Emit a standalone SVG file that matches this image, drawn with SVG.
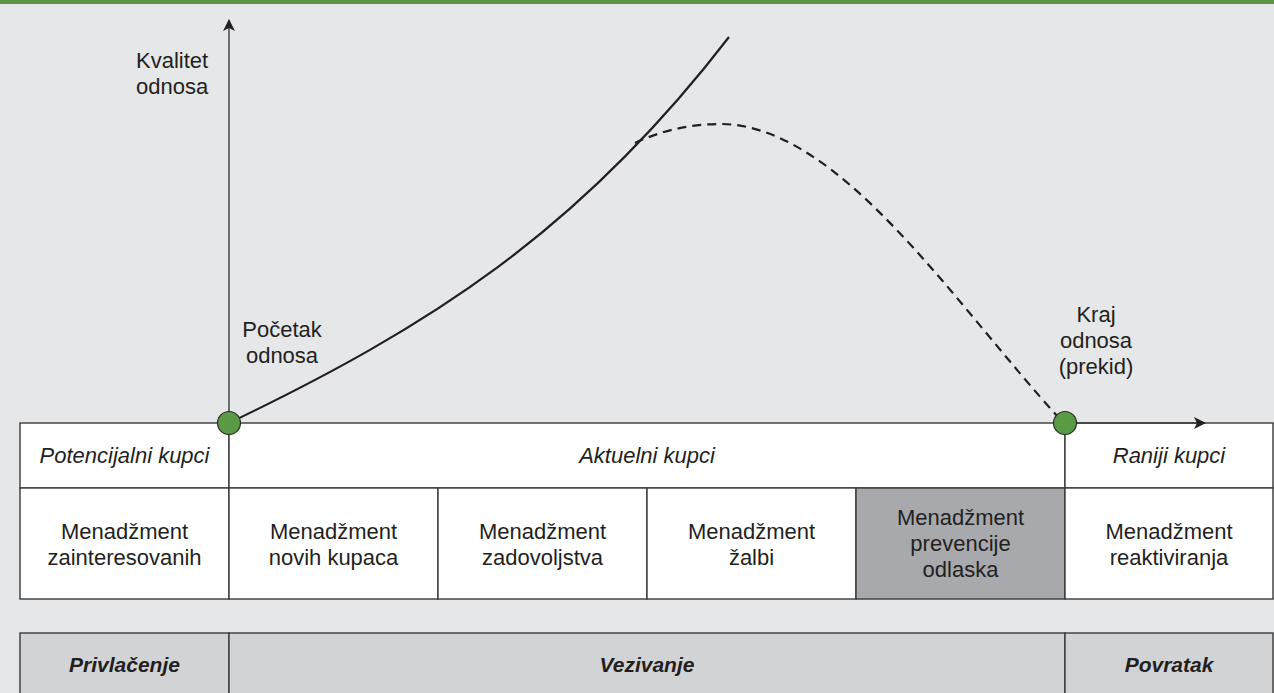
<svg xmlns="http://www.w3.org/2000/svg" width="1274" height="693" viewBox="0 0 1274 693">
<defs>
<style>
text{font-family:"Liberation Sans",Arial,sans-serif;font-size:22px;fill:#231f20}
.c{text-anchor:middle}
.i{font-style:italic}
.b{font-weight:bold;font-style:italic;font-size:21px}
.cell{fill:#ffffff;stroke:#3a3a3a;stroke-width:1.4}
.line{fill:none;stroke:#231f20;stroke-width:2.2}
.axis{fill:none;stroke:#3a3a3a;stroke-width:1.4}
.dot{fill:#5b9a45;stroke:#2b2b2b;stroke-width:1.2}
</style>
<marker id="ah" viewBox="0 0 12 12" refX="11" refY="6" markerWidth="12" markerHeight="12" markerUnits="userSpaceOnUse" orient="auto">
<path d="M0,0 L12,6 L0,12 L3,6 Z" fill="#231f20"/>
</marker>
</defs>
<rect x="0" y="0" width="1274" height="693" fill="#e6e7e8"/>
<rect x="0" y="0" width="1274" height="4" fill="#5a9441"/>

<g id="row1">
<rect class="cell" x="20" y="423" width="209" height="65"/>
<rect class="cell" x="229" y="423" width="836" height="65"/>
<rect class="cell" x="1065" y="423" width="208" height="65"/>
<text class="c i" x="124.5" y="463">Potencijalni kupci</text>
<text class="c i" x="647" y="463">Aktuelni kupci</text>
<text class="c i" x="1169" y="463">Raniji kupci</text>
</g>

<g id="row2">
<rect class="cell" x="20" y="488" width="209" height="111"/>
<rect class="cell" x="229" y="488" width="209" height="111"/>
<rect class="cell" x="438" y="488" width="209" height="111"/>
<rect class="cell" x="647" y="488" width="209" height="111"/>
<rect class="cell" x="856" y="488" width="209" height="111" style="fill:#a7a9ac"/>
<rect class="cell" x="1065" y="488" width="208" height="111"/>
<text class="c" x="124.5" y="539">Menadžment</text>
<text class="c" x="124.5" y="565">zainteresovanih</text>
<text class="c" x="333.5" y="539">Menadžment</text>
<text class="c" x="333.5" y="565">novih kupaca</text>
<text class="c" x="542.5" y="539">Menadžment</text>
<text class="c" x="542.5" y="565">zadovoljstva</text>
<text class="c" x="751.5" y="539">Menadžment</text>
<text class="c" x="751.5" y="565">žalbi</text>
<text class="c" x="960.5" y="525">Menadžment</text>
<text class="c" x="960.5" y="551">prevencije</text>
<text class="c" x="960.5" y="577">odlaska</text>
<text class="c" x="1169" y="539">Menadžment</text>
<text class="c" x="1169" y="565">reaktiviranja</text>
</g>

<g id="row3">
<rect class="cell" x="20" y="633" width="209" height="70" style="fill:#d2d3d5"/>
<rect class="cell" x="229" y="633" width="836" height="70" style="fill:#d2d3d5"/>
<rect class="cell" x="1065" y="633" width="208" height="70" style="fill:#d2d3d5"/>
<text class="c b" x="124.5" y="672">Privlačenje</text>
<text class="c b" x="647" y="672">Vezivanje</text>
<text class="c b" x="1169" y="672">Povratak</text>
</g>

<g id="connectors">
<path class="axis" d="M229,423 L229,20" marker-end="url(#ah)"/>
<path class="axis" d="M1065,423 L1205,423" marker-end="url(#ah)"/>
<path class="line" d="M229,423 C429,327 579,232 729,37"/>
<path class="line" d="M635,143 C660,131 690,124 720,124 C840,124 955,305 1060,419" stroke-dasharray="9 6"/>
</g>

<g id="labels">
<text x="136" y="68">Kvalitet</text>
<text x="136" y="94">odnosa</text>
<text class="c" x="282" y="337">Početak</text>
<text class="c" x="282" y="363">odnosa</text>
<text class="c" x="1096" y="322">Kraj</text>
<text class="c" x="1096" y="348">odnosa</text>
<text class="c" x="1096" y="374">(prekid)</text>
</g>

<g id="start-node"><circle class="dot" cx="229" cy="423" r="11.5"/></g>
<g id="end-node"><circle class="dot" cx="1065" cy="423" r="11.5"/></g>
</svg>
